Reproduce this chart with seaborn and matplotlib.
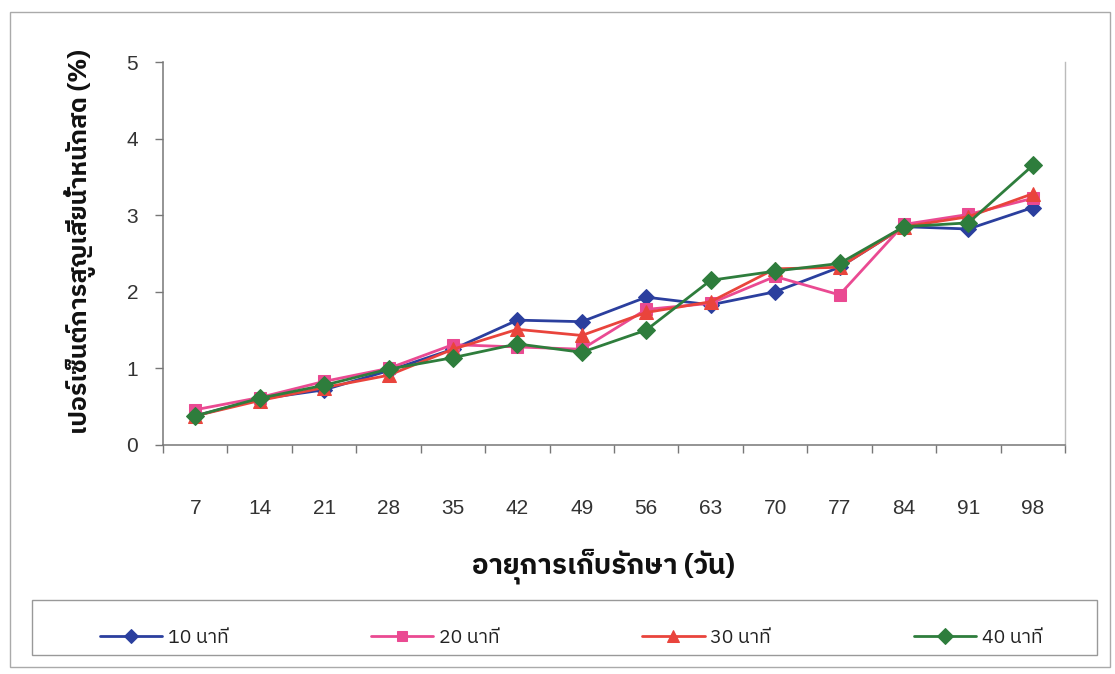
import numpy as np
import pandas as pd
import seaborn as sns
import matplotlib
matplotlib.use("Agg")
import matplotlib.pyplot as plt
from matplotlib import font_manager
from matplotlib.patches import Rectangle

# Storage age (days) and weight loss (%) for each soaking time
days = [7, 14, 21, 28, 35, 42, 49, 56, 63, 70, 77, 84, 91, 98]
loss_10 = [0.38, 0.60, 0.72, 0.97, 1.25, 1.63, 1.61, 1.93, 1.83, 2.00, 2.32, 2.85, 2.82, 3.10]
loss_20 = [0.46, 0.62, 0.83, 1.00, 1.31, 1.28, 1.25, 1.77, 1.85, 2.20, 1.96, 2.88, 3.01, 3.22]
loss_30 = [0.38, 0.58, 0.75, 0.91, 1.25, 1.51, 1.43, 1.73, 1.87, 2.30, 2.32, 2.85, 2.98, 3.28]
loss_40 = [0.38, 0.61, 0.78, 0.99, 1.14, 1.32, 1.21, 1.50, 2.15, 2.27, 2.37, 2.85, 2.90, 3.65]
series_names = ["10 นาที", "20 นาที", "30 นาที", "40 นาที"]
y_ticks = [0, 1, 2, 3, 4, 5]
x_label = "อายุการเก็บรักษา (วัน)"
y_label = "เปอร์เซ็นต์การสูญเสียน้ำหนักสด (%)"


def thai_family():
    """Return an installed font family that covers Thai script."""
    try:
        from fontTools.ttLib import TTFont
    except Exception:
        return None
    preferred = []
    others = []
    for f in font_manager.fontManager.ttflist:
        try:
            tt = TTFont(f.fname, fontNumber=0, lazy=True)
            cmap = tt.getBestCmap() or {}
            if 0x0E19 in cmap and 0x0E35 in cmap:
                if any(k in f.name for k in ("Sans", "Arial", "Liberation")):
                    preferred.append(f.name)
                else:
                    others.append(f.name)
        except Exception:
            continue
    for lst in (preferred, others):
        if lst:
            return lst[0]
    return None


sns.set_theme(style="white")
thai = thai_family()
families = ([thai] if thai else []) + ["Liberation Sans", "DejaVu Sans"]
plt.rcParams["font.family"] = families

df = pd.DataFrame({
    "day": days * 4,
    "loss": loss_10 + loss_20 + loss_30 + loss_40,
    "series": sum([[n] * len(days) for n in series_names], []),
})

colors = ["#2b3f9e", "#ea4a92", "#e9443c", "#2e7d3c"]
markers = ["D", "s", "^", "D"]
msizes = [8, 9, 10, 9]

fig = plt.figure(figsize=(11.15, 6.74), dpi=100)
ax = fig.add_axes([163 / 1115, 1 - 445 / 674, (1065 - 163) / 1115, (445 - 62) / 674])

for name, c, m, ms in zip(series_names, colors, markers, msizes):
    sns.lineplot(data=df[df["series"] == name], x="day", y="loss", ax=ax,
                 color=c, marker=m, markersize=ms, markeredgecolor=c,
                 linewidth=2, label=name, legend=False)

ax.set_xlim(3.5, 101.5)
ax.set_ylim(0, 5)
ax.set_yticks(y_ticks)
ax.set_yticklabels([str(v) for v in y_ticks], family=["Liberation Sans"], fontsize=15, color="#333333")
ax.set_xticks(days)
ax.set_xticklabels([str(d) for d in days], family=["Liberation Sans"], fontsize=15, color="#333333")
ax.set_xticks(np.arange(3.5, 102, 7), minor=True)
ax.tick_params(axis="x", which="major", length=0, pad=39)
ax.tick_params(axis="x", which="minor", direction="out", length=6, color="#777777", width=1)
ax.tick_params(axis="y", which="major", direction="out", length=6, color="#777777", width=1, pad=12)
ax.tick_params(left=True, bottom=True, which="both")

for side in ("left", "bottom"):
    ax.spines[side].set_color("#777777")
    ax.spines[side].set_linewidth(1.1)
ax.spines["right"].set_color("#bbbbbb")
ax.spines["top"].set_visible(False)
ax.spines["right"].set_linewidth(1.0)

ax.set_xlabel("")
ax.set_ylabel("")
fig.text(603 / 1115, 1 - 566 / 674, x_label, ha="center", va="center",
         fontsize=20, fontweight="bold", color="#111111")
fig.text(80 / 1115, 1 - 242 / 674, y_label, ha="center", va="center", rotation=90,
         fontsize=18, fontweight="bold", color="#111111")

handles, labels = ax.get_legend_handles_labels()
leg = fig.legend(handles, labels, loc="lower left", ncol=4, mode="expand",
                 bbox_to_anchor=(92 / 1115, 1 - 655 / 674, (1050 - 92) / 1115, 55 / 674),
                 frameon=False, fontsize=14, handlelength=3.2, handletextpad=0.3,
                 borderaxespad=0.0, markerscale=0.85)
for t in leg.get_texts():
    t.set_color("#222222")

# legend frame and outer chart border
fig.add_artist(Rectangle((32 / 1115, 1 - 655 / 674), (1097 - 32) / 1115, 55 / 674,
                         transform=fig.transFigure, fill=False, edgecolor="#999999", linewidth=1))
fig.add_artist(Rectangle((10 / 1115, 1 - 667 / 674), (1110 - 10) / 1115, (667 - 12) / 674,
                         transform=fig.transFigure, fill=False, edgecolor="#aaaaaa", linewidth=1))

fig.savefig("out.png", dpi=100)
